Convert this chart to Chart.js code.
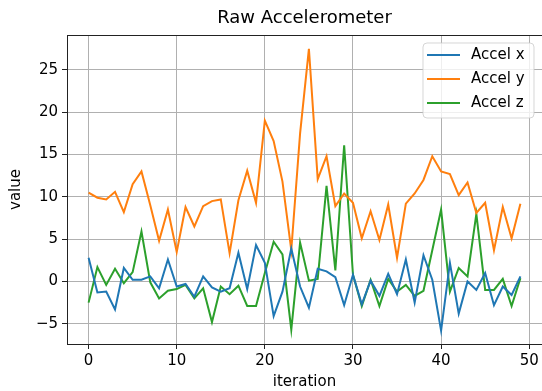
<!DOCTYPE html>
<html>
<head>
<meta charset="utf-8">
<script src="https://cdn.jsdelivr.net/npm/chart.js@4/dist/chart.umd.min.js"></script>
<style>
  html, body { margin: 0; padding: 0; background: #fff; }
  #accelChart { display: block; }
</style>
</head>
<body>
<canvas id="accelChart" width="542" height="391"></canvas>
<script>
// Raw accelerometer readings, one per iteration
var iterations = [0, 1, 2, 3, 4, 5, 6, 7, 8, 9, 10, 11, 12, 13, 14, 15, 16, 17, 18, 19,
    20, 21, 22, 23, 24, 25, 26, 27, 28, 29, 30, 31, 32, 33, 34, 35, 36, 37, 38, 39,
    40, 41, 42, 43, 44, 45, 46, 47, 48, 49];

var accelX = [2.8, -1.3, -1.2, -3.3, 1.6, 0.2, 0.2, 0.6, -0.8, 2.6,
    -0.6, -0.3, -1.8, 0.6, -0.7, -1.2, -0.8, 3.4, -0.9, 4.3,
    2.2, -4.1, -1.2, 3.9, -0.6, -3.1, 1.5, 1.2, 0.5, -2.8,
    0.8, -2.7, 0.1, -1.7, 0.9, -1.5, 2.6, -2.5, 3.1, 0.2,
    -5.8, 2.2, -3.8, 0.0, -1.0, 1.0, -2.8, -0.6, -1.6, 0.6];

var accelY = [10.5, 9.9, 9.7, 10.6, 8.2, 11.5, 13.0, 9.0, 4.8, 8.5,
    3.5, 8.8, 6.5, 8.9, 9.5, 9.7, 3.35, 9.6, 13.1, 9.3,
    19.0, 16.6, 11.8, 3.7, 17.5, 27.5, 12.1, 14.8, 8.9, 10.4,
    9.3, 5.1, 8.3, 4.9, 9.1, 2.8, 9.2, 10.4, 12.0, 14.8,
    13.0, 12.7, 10.2, 11.7, 8.1, 9.3, 3.7, 8.8, 5.1, 9.2];

var accelZ = [-2.5, 1.7, -0.4, 1.5, -0.2, 1.1, 5.9, -0.1, -2.0, -1.1,
    -0.9, -0.4, -2.0, -0.8, -4.8, -0.6, -1.5, -0.5, -2.9, -2.9,
    1.0, 4.7, 3.2, -5.7, 4.6, 0.1, 0.3, 11.3, 1.3, 16.1,
    0.8, -2.9, 0.2, -2.9, 0.3, -1.2, -0.4, -1.7, -1.1, 3.7,
    8.5, -1.2, 1.6, 0.6, 8.0, -1.0, -1.0, 0.3, -2.9, 0.4];

var xTicks = [0, 10, 20, 30, 40, 50];
var yTicks = [-5, 0, 5, 10, 15, 20, 25];

var seriesNames = ['Accel x', 'Accel y', 'Accel z'];
var seriesColors = ['#1f77b4', '#ff7f0e', '#2ca02c'];

(function () {
    'use strict';

    var FONT = 'DejaVu Sans';
    var TEXT = '#000';
    var FRAME = '#222';

    function points(values) {
        return values.map(function (v, i) { return { x: iterations[i], y: v }; });
    }

    function fixedTicks(list) {
        return function (scale) {
            scale.ticks = list.map(function (v) { return { value: v }; });
        };
    }

    // matplotlib prints a real minus sign
    function tickLabel(v) {
        return String(v).replace('-', '\u2212');
    }

    // frame, title and legend drawn like the matplotlib original
    var decor = {
        id: 'decor',
        afterDraw: function (chart) {
            var ctx = chart.ctx;
            var a = chart.chartArea;
            ctx.save();

            ctx.strokeStyle = FRAME;
            ctx.lineWidth = 1;
            ctx.strokeRect(a.left + 0.5, a.top + 0.5, a.right - a.left, a.bottom - a.top);

            ctx.fillStyle = TEXT;
            ctx.font = '18px "' + FONT + '"';
            ctx.textAlign = 'center';
            ctx.textBaseline = 'middle';
            ctx.fillText('Raw Accelerometer', (a.left + a.right) / 2, 18);

            // legend box
            var bx = 423, by = 43, bw = 111, bh = 75, r = 4;
            ctx.beginPath();
            ctx.moveTo(bx + r, by);
            ctx.arcTo(bx + bw, by, bx + bw, by + bh, r);
            ctx.arcTo(bx + bw, by + bh, bx, by + bh, r);
            ctx.arcTo(bx, by + bh, bx, by, r);
            ctx.arcTo(bx, by, bx + bw, by, r);
            ctx.closePath();
            ctx.fillStyle = 'rgba(255,255,255,0.8)';
            ctx.fill();
            ctx.strokeStyle = 'rgba(204,204,204,0.8)';
            ctx.stroke();

            ctx.font = '15px "' + FONT + '"';
            ctx.textAlign = 'left';
            seriesNames.forEach(function (name, i) {
                var y = 55 + i * 24;
                ctx.strokeStyle = seriesColors[i];
                ctx.lineWidth = 2;
                ctx.beginPath();
                ctx.moveTo(427, y);
                ctx.lineTo(460, y);
                ctx.stroke();
                ctx.fillStyle = TEXT;
                ctx.fillText(name, 471, y);
            });
            ctx.restore();
        }
    };

    var series = [accelX, accelY, accelZ];

    new Chart(document.getElementById('accelChart'), {
        type: 'line',
        data: {
            datasets: series.map(function (vals, i) {
                return {
                    label: seriesNames[i],
                    data: points(vals),
                    borderColor: seriesColors[i],
                    backgroundColor: seriesColors[i],
                    borderWidth: 2,
                    pointRadius: 0,
                    tension: 0,
                    fill: false
                };
            })
        },
        options: {
            responsive: false,
            animation: false,
            devicePixelRatio: 1,
            layout: { padding: { top: 35, right: 0, left: 0, bottom: 0 } },
            plugins: {
                legend: { display: false },
                title: { display: false },
                tooltip: { enabled: false }
            },
            scales: {
                x: {
                    type: 'linear',
                    min: -2.45,
                    max: 51.45,
                    afterBuildTicks: fixedTicks(xTicks),
                    afterFit: function (s) { s.height = 47; },
                    grid: { color: '#b0b0b0', lineWidth: 1, tickLength: 5, tickColor: FRAME },
                    border: { display: true, color: FRAME, width: 1 },
                    ticks: { color: TEXT, padding: 3, font: { family: FONT, size: 15 }, maxRotation: 0, callback: tickLabel },
                    title: { display: true, text: 'iteration', color: TEXT, padding: { top: 0, bottom: 0 }, font: { family: FONT, size: 15 } }
                },
                y: {
                    min: -7.39,
                    max: 29.13,
                    afterBuildTicks: fixedTicks(yTicks),
                    afterFit: function (s) { s.width = 67; },
                    grid: { color: '#b0b0b0', lineWidth: 1, tickLength: 5, tickColor: FRAME },
                    border: { display: true, color: FRAME, width: 1 },
                    ticks: { color: TEXT, padding: 4, font: { family: FONT, size: 15 }, callback: tickLabel },
                    title: { display: true, text: 'value', color: TEXT, padding: { top: 7, bottom: 0 }, font: { family: FONT, size: 15 } }
                }
            }
        },
        plugins: [decor]
    });
})();
</script>
</body>
</html>
